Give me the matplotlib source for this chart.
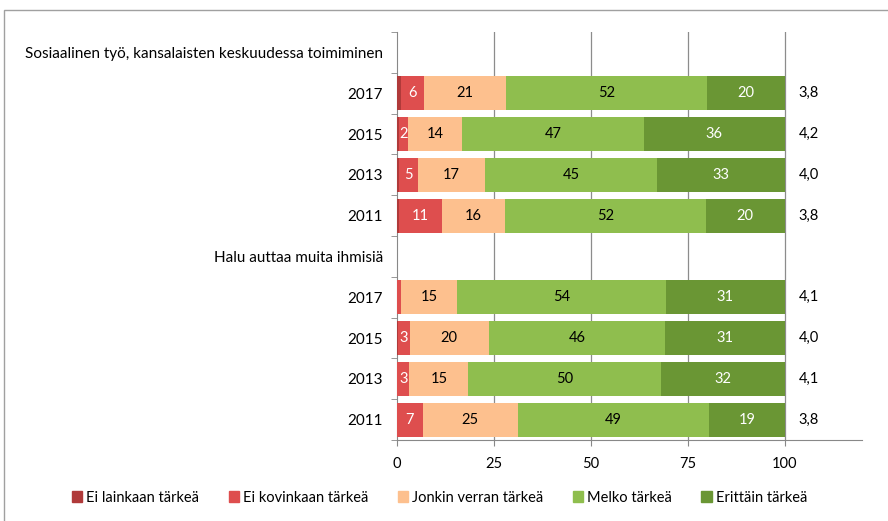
import numpy as np
import matplotlib.pyplot as plt
from matplotlib.patches import Rectangle, Patch

plt.rcParams['font.family'] = ['Lato', 'DejaVu Sans']

# rivit ylhäältä alas (otsikkorivit ilman palkkeja)
rivit = ["Sosiaalinen työ, kansalaisten keskuudessa toimiminen", "2017", "2015", "2013", "2011",
         "Halu auttaa muita ihmisiä", "2017", "2015", "2013", "2011"]
sarjat = ["Ei lainkaan tärkeä", "Ei kovinkaan tärkeä", "Jonkin verran tärkeä", "Melko tärkeä", "Erittäin tärkeä"]
varit = ["#B03A3A", "#DE4E4E", "#FDC08E", "#8FBE4E", "#6A9634"]

ei_lainkaan = [0, 1.0, 0.5, 0.6, 0.5, 0, 0.0, 0.3, 0.0, 0.0]
ei_kovinkaan = [0, 6.0, 2.3, 4.8, 11.0, 0, 1.0, 3.0, 3.2, 6.6]
jonkin_verran = [0, 21.0, 14.0, 17.2, 16.3, 0, 14.6, 20.4, 15.2, 24.6]
melko = [0, 52.0, 47.0, 44.6, 51.9, 0, 53.8, 45.5, 49.6, 49.4]
erittain = [0, 20.0, 36.2, 32.8, 20.3, 0, 30.6, 30.8, 32.0, 19.4]
keskiarvo = ["", "3,8", "4,2", "4,0", "3,8", "", "4,1", "4,0", "4,1", "3,8"]

arvot = [ei_lainkaan, ei_kovinkaan, jonkin_verran, melko, erittain]
tekstivari = ["white", "white", "black", "black", "white"]

fig = plt.figure(figsize=(8.88, 5.21), dpi=100)
ax = fig.add_axes([397 / 888, 1 - 440 / 521, 465 / 888, 408 / 521])

y = np.arange(len(rivit))
vasen = np.zeros(len(rivit))
for s, v, c, tc in zip(sarjat, arvot, varit, tekstivari):
    v = np.array(v)
    ax.barh(y, v, left=vasen, height=0.83, color=c, label=s, zorder=3)
    for yi, (l, w) in enumerate(zip(vasen, v)):
        if w >= 1.5:
            ax.text(l + w / 2, yi, f"{w:.0f}", ha="center", va="center", color=tc, fontsize=10.5, zorder=4)
    vasen += v

for yi, k in enumerate(keskiarvo):
    ax.text(103.6, yi, k, ha="left", va="center", fontsize=10.5)

ax.set_xlim(0, 120)
ax.set_ylim(len(rivit) - 0.5, -0.5)
ax.set_xticks([0, 25, 50, 75, 100])
ax.set_yticks(y)
ax.set_yticklabels(rivit, fontsize=11)
ax.set_yticks(np.arange(-0.5, len(rivit), 1), minor=True)
ax.tick_params(axis="y", which="major", length=0, pad=10)
ax.tick_params(axis="y", which="minor", length=4, color="#888888")
ax.tick_params(axis="x", length=4, color="#888888", labelsize=10.5, pad=8)
ax.grid(False)
for gx in [25, 50, 75, 100]:
    ax.axvline(gx, color="#8c8c8c", lw=0.9, zorder=1)
for sp in ["top", "right"]:
    ax.spines[sp].set_visible(False)
ax.spines["left"].set_color("#888888")
ax.spines["bottom"].set_color("#888888")

kahvat = [Patch(color=c) for c in varit]
fig.legend(kahvat, sarjat, loc="center", bbox_to_anchor=(0.495, 0.045), ncol=5, frameon=False,
           handlelength=0.7, handleheight=0.7, handletextpad=0.3, columnspacing=2.0, fontsize=10.5)

fig.patches.append(Rectangle((4 / 888, -0.1), 1.1, 1 - 10 / 521 + 0.1, transform=fig.transFigure,
                             fill=False, edgecolor="#a0a0a0", lw=1))

fig.savefig("out.png", dpi=100)
